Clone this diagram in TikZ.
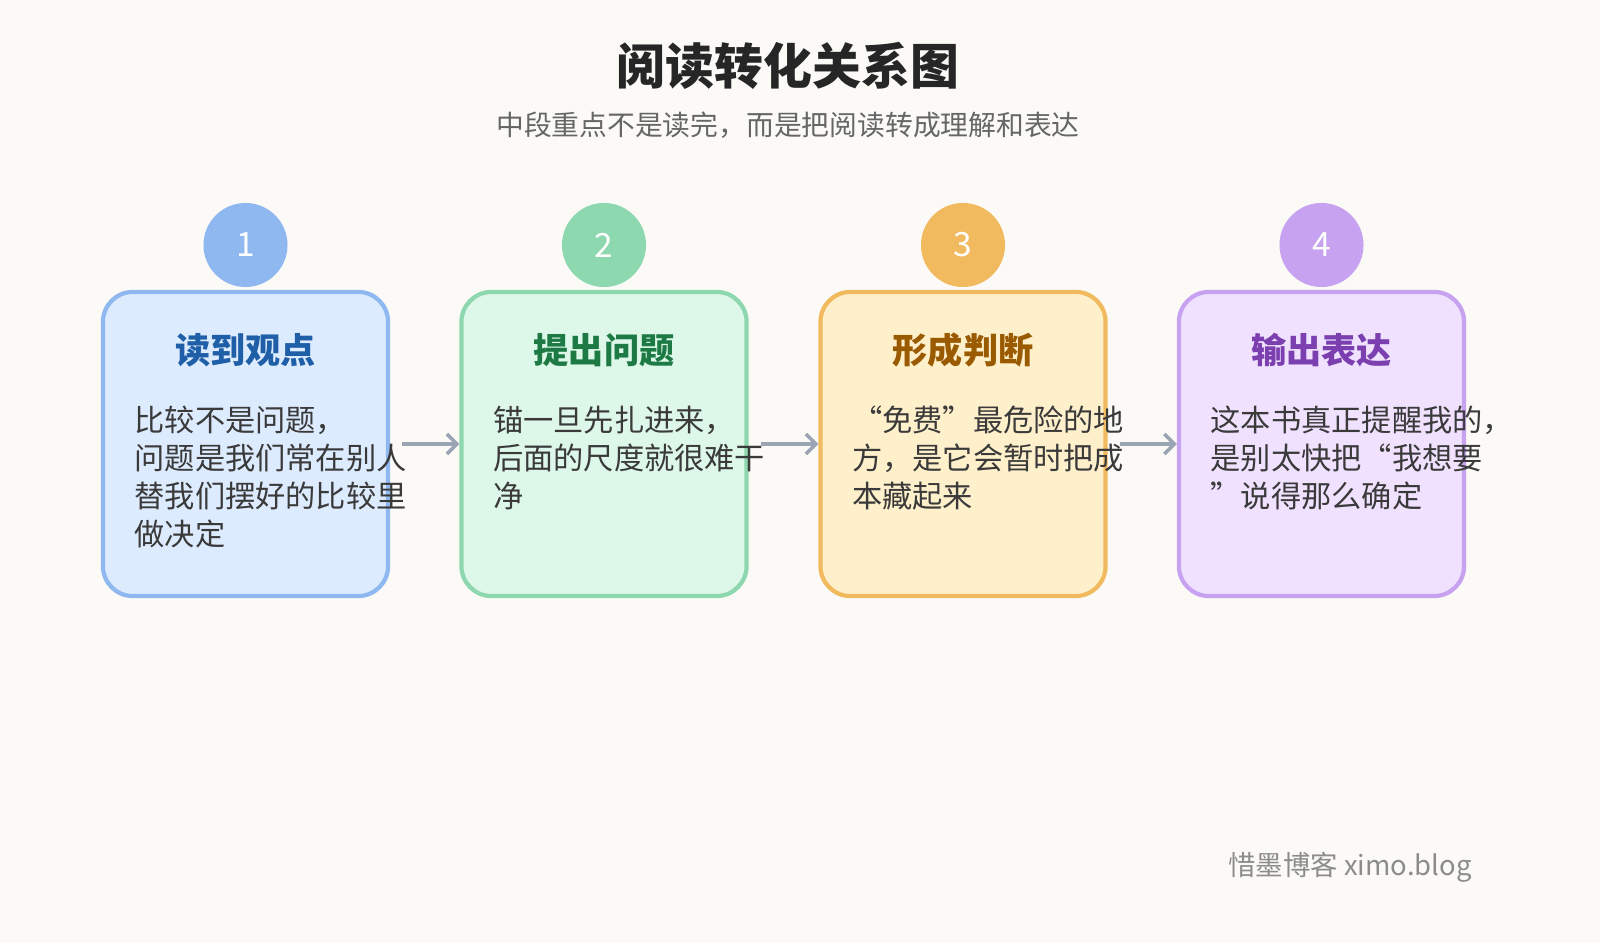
\documentclass[tikz,border=0pt]{standalone}
\usepackage{fontspec}
\setmainfont{Noto Sans CJK SC}
\usetikzlibrary{positioning,arrows.meta}
\definecolor{bgcol}{HTML}{FBFAF7}
\definecolor{cbluefill}{HTML}{DDEBFE}\definecolor{cblueline}{HTML}{8FB8F0}\definecolor{cbluetext}{HTML}{1F5FA8}
\definecolor{cgreenfill}{HTML}{DDF7E8}\definecolor{cgreenline}{HTML}{8DD8AE}\definecolor{cgreentext}{HTML}{1E7A45}
\definecolor{corangefill}{HTML}{FFF0CC}\definecolor{corangeline}{HTML}{F2BA5E}\definecolor{corangetext}{HTML}{9A5A00}
\definecolor{cpurplefill}{HTML}{F0E2FF}\definecolor{cpurpleline}{HTML}{C7A2F0}\definecolor{cpurpletext}{HTML}{7B3FB0}
\definecolor{bodytext}{HTML}{3A3A3A}
\definecolor{arrowcol}{HTML}{9AA4B2}
\tikzset{
  stagebox/.style={draw=#1line, fill=#1fill, line width=1.2pt, rounded corners=0.3cm,
    minimum width=2.85cm, minimum height=3.04cm},
  badge/.style={circle, fill=#1line, minimum size=0.84cm, inner sep=0pt,
    text=white, font=\fontsize{9.5}{10}\selectfont},
  flow/.style={draw=arrowcol, line width=1pt, -{Straight Barb[length=1mm]}, shorten <=0.12cm}
}
\begin{document}
\begin{tikzpicture}[x=0.01cm, y=-0.01cm]
    \fill[bgcol] (0,0) rectangle (1600,943);
    \useasboundingbox (0,0) rectangle (1600,943);

    % Heading
    \node[font=\fontsize{13.9}{15}\selectfont\bfseries, text=black!85] (title) at (788,66) {阅读转化关系图};
    \node[font=\fontsize{7.9}{9}\selectfont, text=black!60] (subtitle) at (788,125) {中段重点不是读完，而是把阅读转成理解和表达};

    % Stages
    \foreach \i/\x/\col/\head in {1/245.5/cblue/读到观点, 2/604/cgreen/提出问题,
                                  3/963/corange/形成判断, 4/1321.5/cpurple/输出表达} {
        \node[stagebox=\col] (box\i) at (\x,444) {};
        \node[badge=\col] (num\i) at (\x,245) {\i};
        \node[font=\fontsize{10}{11}\selectfont\bfseries, text=\col text] (head\i) at (\x,350) {\head};
    }

    % Connectors
    \foreach \i/\j in {1/2, 2/3, 3/4} {
        \draw[flow] (box\i.east) -- (box\j.west);
    }

    % Body texts
    \foreach \i/\body in {
        1/{比较不是问题，\\问题是我们常在别人\\替我们摆好的比较里\\做决定},
        2/{锚一旦先扎进来，\\后面的尺度就很难干\\净},
        3/{“免费”最危险的地\\方，是它会暂时把成\\本藏起来},
        4/{这本书真正提醒我的，\\是别太快把“我想要\\”说得那么确定}} {
        \node[anchor=north west, align=left, inner sep=0pt, text=bodytext,
              font=\fontsize{8.6}{10.8}\selectfont] (body\i) at ([xshift=0.33cm]box\i.west |- 0,405) {\body};
    }

    % Footer
    \node[anchor=east, font=\fontsize{7.8}{9}\selectfont, text=black!45] (footer) at (1484,867) {惜墨博客 ximo.blog};
\end{tikzpicture}
\end{document}
